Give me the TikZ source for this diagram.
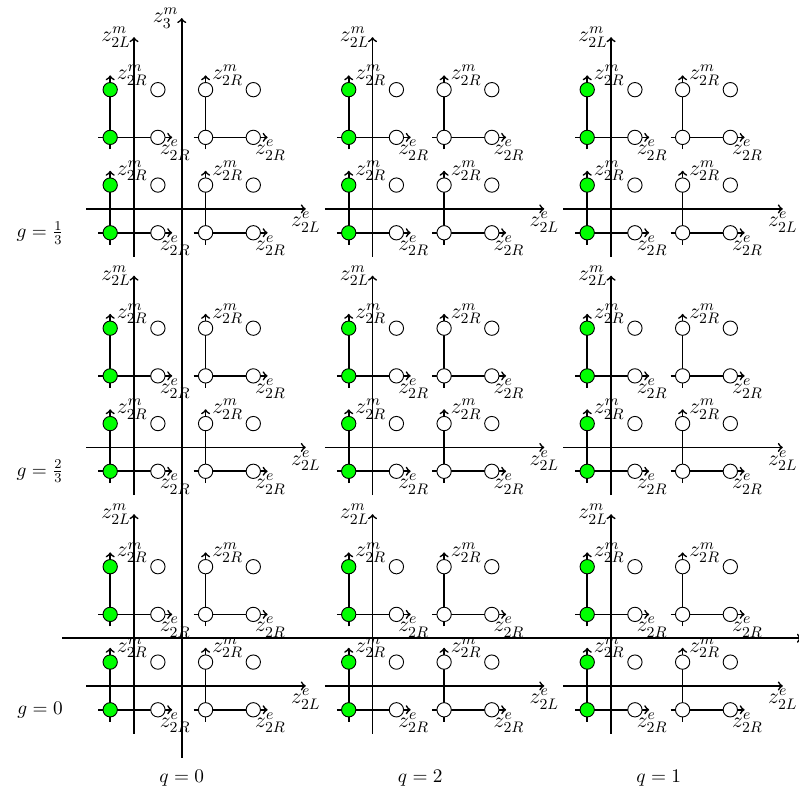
\RequirePackage{fix-cm}
\documentclass[tikz,border=0pt]{standalone}
\begin{document}
\begin{tikzpicture}[x=1cm,y=1cm,
  ax/.style={->, line width=1pt},
  lab/.style={font=\fontsize{13}{15}\selectfont, inner sep=1.5pt},
  txt/.style={font=\fontsize{11.5}{13}\selectfont},
  dotg/.style={circle, draw=black, fill=green, minimum size=0.3cm, inner sep=0pt, line width=0.55pt},
  dotw/.style={circle, draw=black, fill=white, minimum size=0.3cm, inner sep=0pt, line width=0.55pt}]
\useasboundingbox (-2.81,-2.16) rectangle (13.94,14.38);
\clip (-2.81,-2.16) rectangle (13.94,14.38);

% labels of the upper sub-panels of the g=0 row (partly hidden by the z3 axis)
\foreach \X in {0,5,10}
  \foreach \a in {0,2}
    \node[lab, below, xshift=0.06cm] (eh\X\a) at (\X-0.5+\a+1.3,1.5) {$z^e_{2R}$};
\fill[white] (-1.5,0.8) rectangle (14,0.985);

% big z3 axes
\coordinate (z3l) at (-1.5,1);
\coordinate (z3r) at (14,1);
\coordinate (z3b) at (1,-1.5);
\coordinate (z3t) at (1,14);
\draw[ax] (z3l) -- (z3r) node[lab, below, xshift=0.17cm] (z3e) {$z^e_3$};
\draw[ax] (z3b) -- (z3t) node[lab, left] (z3m) {$z^m_3$};

% panels
\foreach \X in {0,5,10}
 \foreach \Y in {0,5,10} {
  \coordinate (L\X\Y) at (\X,\Y);
  \draw[ax] (\X-1,\Y) -- (\X+3.6,\Y) node[lab, below] (le\X\Y) {$z^e_{2L}$};
  \draw[ax] (\X,\Y-1) -- (\X,\Y+3.6) node[lab, left] (lm\X\Y) {$z^m_{2L}$};
  \foreach \a in {0,2}
   \foreach \b in {0,2} {
    \begin{scope}[shift={(\X-0.5+\a,\Y-0.5+\b)}]
     \draw[ax] (-0.25,0) -- (1.3,0) coordinate (te\X\Y\a\b);
     \draw[ax] (0,-0.25) -- (0,1.3) node[lab, right, xshift=0.07cm] (rm\X\Y\a\b) {$z^m_{2R}$};
     \pgfmathtruncatemacro\hideit{and(\Y==0,\b==2)}
     \ifnum\hideit=0
       \node[lab, below, xshift=0.06cm] (re\X\Y\a\b) at (te\X\Y\a\b) {$z^e_{2R}$};
     \fi
     \ifnum\a=0
       \node[dotg] (c\X\Y\a\b a) at (0,0) {};
       \node[dotg] (c\X\Y\a\b b) at (0,1) {};
     \else
       \node[dotw] (c\X\Y\a\b a) at (0,0) {};
       \node[dotw] (c\X\Y\a\b b) at (0,1) {};
     \fi
     \node[dotw] (c\X\Y\a\b c) at (1,0) {};
     \node[dotw] (c\X\Y\a\b d) at (1,1) {};
    \end{scope}
   }
 }

% row and column labels
\node[txt] (g13) at (-1.97,9.5) {$g=\frac{1}{3}$};
\node[txt] (g23) at (-1.97,4.5) {$g=\frac{2}{3}$};
\node[txt] (g0) at (-1.97,-0.5) {$g=0$};
\node[txt] (q0) at (1,-1.93) {$q=0$};
\node[txt] (q2) at (6,-1.93) {$q=2$};
\node[txt] (q1) at (11,-1.93) {$q=1$};
\end{tikzpicture}
\end{document}
